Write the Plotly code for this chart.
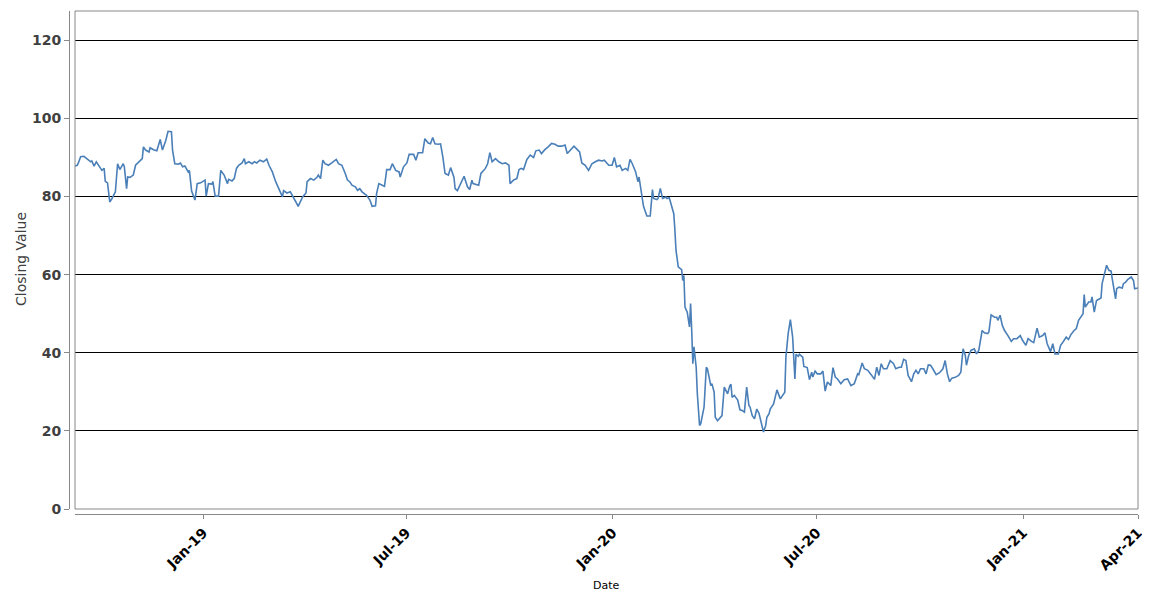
import pandas as pd
import plotly.graph_objects as go

# ---- data ----
start_date = "2018-09-08 12:00"
day_offset = [
    0, 2, 3, 5, 8, 11, 12, 14, 15, 17, 19, 21, 24, 26, 27, 29, 31, 33, 36, 38, 40, 43, 44, 46, 47, 49, 52, 54, 57, 60,
    61, 63, 66, 67, 70, 73, 76, 78, 81, 83, 86, 87, 89, 92, 94, 96, 98, 101, 102, 104, 107, 109, 112, 115, 116, 117,
    119, 122, 123, 125, 128, 130, 133, 136, 137, 140, 142, 144, 146, 149, 151, 152, 155, 158, 160, 162, 165, 168, 171,
    173, 176, 179, 182, 185, 186, 189, 192, 194, 197, 199, 203, 206, 207, 210, 213, 216, 217, 219, 221, 223, 226, 229,
    233, 235, 238, 241, 243, 245, 247, 250, 252, 254, 256,
    260, 263, 265, 268, 269, 271, 274, 276, 278, 281, 283, 286, 289, 290, 293, 296, 298, 302, 304, 306, 310, 312, 315,
    317, 319, 321, 324, 326, 328, 330, 333, 335, 338, 339, 341, 343, 345, 347, 350, 352, 354, 355, 360, 362, 366, 368,
    370, 372, 375, 378, 381, 384, 387, 388, 391, 394, 396, 398, 400, 403, 406, 409, 411, 414, 416, 419, 422, 425, 428,
    431, 434, 437, 439, 442, 445, 448, 450, 452, 455, 458, 461, 464, 467, 470, 472, 476, 479, 481, 483, 486, 488, 491,
    493, 495, 497, 500, 502, 503, 505, 507,
    510, 513, 515, 516, 519, 520, 522, 524, 527, 528, 530, 532, 534, 535, 536, 538, 541, 542, 543, 544, 546, 548, 549,
    550, 551, 552, 554, 555, 557, 558, 560, 561, 563, 564, 567, 568, 570, 571, 573, 576, 577, 579, 581, 582, 584, 585,
    586, 588, 591, 593, 595, 597, 599, 601, 602, 604, 606, 608, 610, 612, 614, 616, 617, 619, 620, 623, 626, 629, 631,
    633, 634, 636, 638, 640, 642, 643, 645, 646, 649, 650, 653, 655, 657, 658, 660, 662, 665, 667, 669, 671, 674, 676,
    678, 680, 683, 686, 689, 692,
    695, 698, 699, 702, 704, 707, 710, 713, 715, 717, 719, 721, 724, 727, 730, 732, 735, 737, 739, 741, 743, 746, 748,
    750, 752, 754, 757, 759, 761, 763, 765, 768, 771, 774, 776, 778, 780, 782, 785, 788, 790, 792, 794, 795, 797, 799,
    802, 804, 806, 809, 811, 814, 815, 817, 820, 822, 823, 825, 827, 829, 832, 835, 837, 840, 843, 845, 848, 850, 853,
    855, 858, 860, 863, 865, 867, 870, 872, 874, 877, 879, 881, 884, 886, 888, 891, 893, 895, 897, 899, 900, 901, 904,
    906, 907, 909, 911, 913, 915, 916, 918, 919, 920, 922, 924, 925, 928, 929, 931, 934, 935, 937, 939, 942, 944, 945,
    948,
]
closing_value = [
    87.8, 88.0, 88.6, 90.2, 90.3, 89.7, 89.3, 88.9, 89.1, 87.8, 88.9, 88.0, 86.7, 87.2, 83.9, 83.5, 78.6, 79.5, 81.2,
    88.4, 86.9, 88.4, 87.6, 82.0, 85.0, 84.9, 85.5, 88.0, 88.9, 89.7, 92.7, 91.9, 91.4, 92.5, 92.0, 91.7, 94.6, 91.9,
    94.4, 96.7, 96.6, 91.9, 88.4, 88.3, 88.6, 87.6, 87.8, 86.3, 86.7, 81.4, 79.1, 83.3, 83.5, 84.0, 84.2, 80.1, 83.3,
    83.2, 83.8, 80.1, 80.1, 86.7, 85.5, 83.3, 84.4, 84.0, 84.6, 87.2, 88.0, 88.6, 89.7, 88.4, 88.9, 88.4, 88.9, 88.6,
    89.3, 88.9, 89.6, 88.0, 86.3, 83.8, 81.6, 79.9, 81.5, 80.9, 81.2, 80.3, 78.6, 77.5, 79.9, 80.9, 83.8, 84.6, 84.2,
    85.0, 85.5, 84.6, 89.3, 88.4, 88.0, 88.6, 89.5, 88.4, 88.0, 85.9, 84.2, 83.8, 82.9, 82.5, 81.6, 82.0, 81.2,
    80.3, 79.1, 77.5, 77.6, 80.8, 83.3, 82.9, 82.6, 86.9, 86.9, 88.4, 86.7, 86.3, 85.0, 87.6, 88.6, 90.8, 90.8, 89.3,
    91.2, 91.2, 94.8, 93.7, 93.5, 95.1, 93.5, 93.4, 93.5, 90.2, 85.9, 85.5, 87.4, 84.9, 82.0, 81.5, 82.9, 83.8, 85.2,
    82.5, 81.8, 84.2, 83.3, 82.9, 85.9, 87.2, 88.4, 91.2, 88.9, 89.7, 88.9, 88.4, 88.6, 88.0, 83.3, 84.2, 84.6, 86.9,
    87.2, 86.9, 89.5, 90.6, 90.0, 91.7, 91.9, 91.0, 92.0, 92.7, 93.6, 93.4, 92.9, 92.9, 93.2, 91.0, 92.0, 92.9, 92.0,
    91.4, 88.6, 88.0, 86.7, 88.4, 88.9, 89.3, 89.1, 89.3, 88.0, 88.0, 90.0, 87.6, 88.0, 86.7, 87.2, 86.7, 89.5, 88.4,
    86.3, 83.8, 85.0, 80.8, 77.5,
    75.0, 75.0, 81.8, 79.5, 79.2, 79.5, 82.1, 79.5, 79.9, 79.5, 79.7, 77.8, 75.6, 71.4, 66.2, 62.0, 61.3, 58.5, 59.8,
    51.7, 50.4, 46.6, 52.6, 45.7, 37.2, 41.5, 36.3, 29.5, 21.4, 21.8, 25.2, 26.1, 36.3, 35.9, 31.6, 32.1, 29.9, 23.5,
    22.6, 23.5, 23.9, 31.2, 30.3, 29.5, 31.6, 31.9, 28.6, 29.1, 27.9, 25.4, 25.2, 24.8, 31.2, 26.5, 26.1, 23.9, 23.1,
    25.6, 24.5, 21.8, 19.7, 21.4, 23.5, 24.4, 25.6, 26.9, 30.5, 28.2, 29.1, 29.9, 38.9, 44.9, 48.5, 44.0, 33.3, 39.6,
    39.1, 39.6, 38.9, 36.5, 36.2, 33.1, 35.0, 33.8, 35.3, 34.6, 34.6, 35.3, 30.2, 32.5, 31.6, 36.2, 33.8, 33.3, 32.1,
    33.1, 33.3, 31.6,
    32.1, 34.6, 34.4, 37.4, 35.9, 35.5, 34.4, 33.2, 36.3, 34.2, 37.2, 35.9, 35.9, 38.0, 37.2, 35.9, 36.3, 36.3, 38.3,
    38.0, 34.2, 32.6, 34.6, 35.5, 34.6, 35.9, 35.9, 34.6, 36.9, 36.8, 35.9, 34.4, 34.9, 35.9, 38.0, 34.6, 32.6, 33.5,
    33.7, 34.2, 35.0, 41.0, 39.3, 36.8, 39.3, 40.6, 41.0, 39.7, 40.6, 45.7, 45.1, 44.9, 45.3, 49.7, 49.1, 49.1, 48.3,
    49.6, 47.0, 45.7, 44.4, 42.9, 43.6, 43.6, 44.4, 43.2, 41.9, 43.6, 42.9, 42.6, 46.3, 44.0, 44.4, 45.1, 42.3, 40.3,
    42.3, 39.7, 39.7, 41.9, 42.7, 44.0, 43.4, 44.6, 45.7, 46.2, 48.3, 49.1, 50.0, 54.9, 51.7, 53.0, 53.0, 54.3, 50.4,
    53.4, 53.8, 54.0, 57.7, 60.3, 60.9, 62.4, 61.1, 60.9, 59.0, 53.8, 56.4, 56.8, 56.6, 57.7, 58.1, 58.8, 59.4, 58.5,
    56.4, 56.6,
]
x_tick_dates = ["2019-01-01", "2019-07-01", "2020-01-01", "2020-07-01", "2021-01-01", "2021-04-13 12:00"]
x_tick_labels = ["Jan-19", "Jul-19", "Jan-20", "Jul-20", "Jan-21", "Apr-21"]
y_ticks = [0, 20, 40, 60, 80, 100, 120]
x_end_date = "2021-04-13 12:00"
y_max = 127.5

base = pd.Timestamp(start_date)
dates = [base + pd.Timedelta(days=d) for d in day_offset]

fig = go.Figure()
fig.add_trace(go.Scatter(
    x=dates, y=closing_value, mode="lines",
    line=dict(color="#4a7fb8", width=1.6),
    hoverinfo="x+y", showlegend=False,
))

FONT = "DejaVu Sans"
# the page body has an 8px margin, so the figure is drawn from (8, 8)
W, H = 1142, 592
ML, MR, MT, MB = 61, 12, 3, 86
PW = W - ML - MR
PH = H - MT - MB
fig.update_layout(
    width=W, height=H,
    margin=dict(l=ML, r=MR, t=MT, b=MB, autoexpand=False),
    paper_bgcolor="white", plot_bgcolor="white",
    xaxis=dict(
        domain=[6 / PW, 1],
        anchor="free", position=0,
        type="date", automargin=False,
        range=[start_date, x_end_date],
        tickmode="array", tickvals=x_tick_dates, ticktext=x_tick_labels,
        tickangle=-45,
        tickfont=dict(family=FONT, size=14, color="#000000", weight="bold"),
        showgrid=False, zeroline=False,
        showline=True, linecolor="#888888", linewidth=1,
        ticks="outside", ticklen=4, tickcolor="#888888", tickwidth=1,
    ),
    yaxis=dict(
        domain=[5 / PH, 1],
        anchor="free", position=0, automargin=False,
        range=[0, y_max],
        tickmode="array", tickvals=y_ticks,
        tickfont=dict(family=FONT, size=14, color="#404040", weight="bold"),
        showgrid=True, gridcolor="#000000", gridwidth=1,
        zeroline=False,
        showline=True, linecolor="#888888", linewidth=1,
        ticks="outside", ticklen=5, tickcolor="#888888", tickwidth=1,
    ),
    shapes=[dict(
        type="rect", xref="x domain", yref="y domain",
        x0=0, x1=1, y0=0, y1=1,
        line=dict(color="#888888", width=1), fillcolor="rgba(0,0,0,0)",
        layer="above",
    )],
    annotations=[
        dict(text="Date", xref="paper", yref="paper", x=(606 - 69) / PW, y=-(585 - 514) / PH,
             showarrow=False, xanchor="center", yanchor="middle",
             font=dict(family=FONT, size=11, color="#000000")),
        dict(text="Closing Value", xref="paper", yref="paper", x=-(69 - 21) / PW, y=(514 - 259) / PH,
             showarrow=False, xanchor="center", yanchor="middle", textangle=-90,
             font=dict(family=FONT, size=14, color="#404040")),
    ],
)

fig.write_html("out.html")
